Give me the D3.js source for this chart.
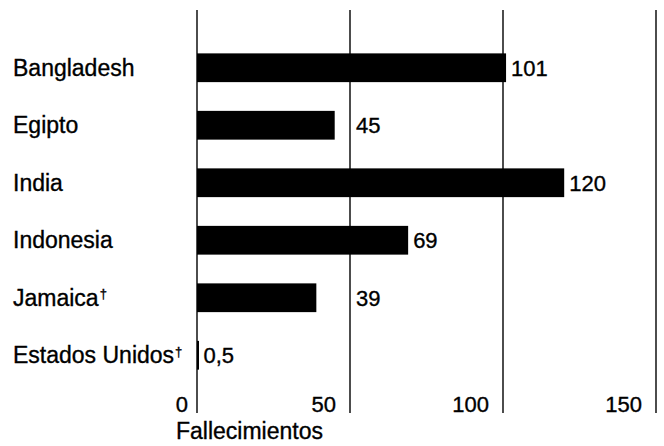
<!DOCTYPE html>
<html><head><meta charset="utf-8">
<script src="https://cdn.jsdelivr.net/npm/d3@7"></script>
<style>body{margin:0;background:#fff}svg{display:block}text{font-family:"Liberation Sans",Arial,Helvetica,sans-serif;fill:#000;stroke:#000;stroke-width:0.35px}</style>
</head><body>
<svg id="c" width="664" height="446"></svg>
<script>
const categories = ["Bangladesh","Egipto","India","Indonesia","Jamaica","Estados Unidos"];
const daggers = [false,false,false,false,true,true];
const values = [101,45,120,69,39,0.5];
const valueLabels = ["101","45","120","69","39","0,5"];
const ticks = [0,50,100,150];
const axisTitle = "Fallecimientos";

const svg = d3.select("#c");
const x = d3.scaleLinear().domain([0,150]).range([197,656]);
const y = d3.scaleBand().domain(categories).range([39,384]).paddingInner(0.5).paddingOuter(0.25);

// gridlines
svg.selectAll("line.grid").data(ticks).join("line")
  .attr("x1",d=>x(d)).attr("x2",d=>x(d)).attr("y1",10).attr("y2",413)
  .attr("stroke","#000").attr("stroke-width",1.4);

// bars
svg.selectAll("rect.bar").data(categories).join("rect")
  .attr("x",x(0)).attr("y",d=>y(d)).attr("height",y.bandwidth())
  .attr("width",(d,i)=>Math.max(2,x(values[i])-x(0)))
  .attr("fill","#000");

// category labels
const cl = svg.selectAll("text.cat").data(categories).join("text")
  .attr("x",13).attr("y",d=>y(d)+y.bandwidth()/2).attr("dy","0.34em")
  .style("font-size","23px");
cl.append("tspan").text(d=>d);
cl.filter((d,i)=>daggers[i]).append("tspan").text("†").style("font-size","13px").attr("dy","-0.55em").attr("dx","1");

// value labels
const vl = svg.selectAll("text.val").data(categories).join("text")
  .attr("y",d=>y(d)+y.bandwidth()/2).attr("dy","0.36em")
  .style("font-size","22px").text((d,i)=>valueLabels[i]);
vl.each(function(d,i){
  const end = x(values[i]);
  let px = end + 5;
  ticks.forEach(t=>{ const gx = x(t); if (gx > end + 1 && gx - end < 40) px = gx + 6; });
  d3.select(this).attr("x",px);
});

// tick labels
svg.selectAll("text.tick").data(ticks).join("text")
  .attr("x",d=>x(d)-(d===0?9:14)).attr("y",412).attr("text-anchor","end")
  .style("font-size","22px").text(d=>d3.format("d")(d));

svg.append("text").attr("x",176).attr("y",439).style("font-size","23px").text(axisTitle);
</script>
</body></html>
